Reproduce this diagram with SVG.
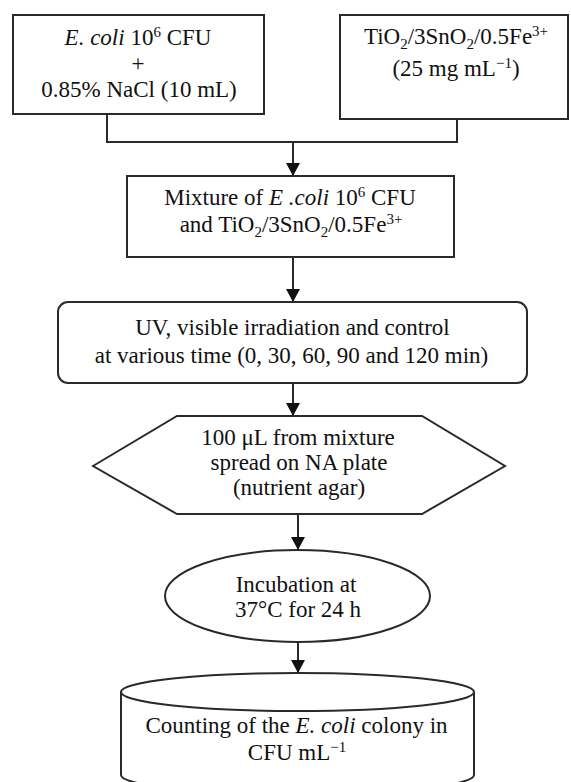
<svg xmlns="http://www.w3.org/2000/svg" width="571" height="782" viewBox="0 0 571 782">
<style>
.shape{fill:#fff;stroke:#2a2a2a;stroke-width:2}
.conn{fill:none;stroke:#2a2a2a;stroke-width:2}
text{font-family:"Liberation Serif","Times New Roman",serif;font-size:23px;fill:#111;text-anchor:middle}
.it{font-style:italic}
.sm{font-size:15px}
</style>
<defs>
<marker id="arr" markerUnits="userSpaceOnUse" markerWidth="14" markerHeight="14" viewBox="0 0 14 14" refX="13" refY="7" orient="auto">
<path d="M0,0 L13,7 L0,14 Z" fill="#111"/>
</marker>
</defs>
<rect width="571" height="782" fill="#fff"/>
<g id="connectors">
<polyline class="conn" points="107,114 107,142 457,142 457,119"/>
<line class="conn" x1="293" y1="142" x2="293" y2="176" marker-end="url(#arr)"/>
<line class="conn" x1="293" y1="257" x2="293" y2="302" marker-end="url(#arr)"/>
<line class="conn" x1="293" y1="383" x2="293" y2="416" marker-end="url(#arr)"/>
<line class="conn" x1="298" y1="514" x2="298" y2="550" marker-end="url(#arr)"/>
<line class="conn" x1="298" y1="642" x2="298" y2="673" marker-end="url(#arr)"/>
</g>
<g id="ecoli">
<rect class="shape" x="13" y="15" width="251" height="99"/>
<text x="138" y="45"><tspan class="it">E. coli</tspan> 10<tspan class="sm" dy="-8">6</tspan><tspan dy="8"> CFU</tspan></text>
<text x="138" y="71">+</text>
<text x="139" y="97">0.85% NaCl (10 mL)</text>
</g>
<g id="catalyst">
<rect class="shape" x="340" y="15" width="228" height="104"/>
<text x="456" y="44">TiO<tspan class="sm" dy="5">2</tspan><tspan dy="-5">/3SnO</tspan><tspan class="sm" dy="5">2</tspan><tspan dy="-5">/0.5Fe</tspan><tspan class="sm" dy="-8">3+</tspan></text>
<text x="456" y="76">(25 mg mL<tspan class="sm" dy="-8">−1</tspan><tspan dy="8">)</tspan></text>
</g>
<g id="mixture">
<rect class="shape" x="127" y="176" width="327" height="81"/>
<text x="290" y="205">Mixture of <tspan class="it">E .coli</tspan> 10<tspan class="sm" dy="-8">6</tspan><tspan dy="8"> CFU</tspan></text>
<text x="291" y="232">and TiO<tspan class="sm" dy="5">2</tspan><tspan dy="-5">/3SnO</tspan><tspan class="sm" dy="5">2</tspan><tspan dy="-5">/0.5Fe</tspan><tspan class="sm" dy="-8">3+</tspan></text>
</g>
<g id="irradiation">
<rect class="shape" x="58" y="302" width="469" height="81" rx="10"/>
<text x="292.5" y="335">UV, visible irradiation and control</text>
<text x="291.5" y="363">at various time (0, 30, 60, 90 and 120 min)</text>
</g>
<g id="spread">
<polygon class="shape" points="93,466 177,416 422,416 505,466 422,514 177,514"/>
<text x="298" y="445">100 μL from mixture</text>
<text x="299" y="470">spread on NA plate</text>
<text x="299" y="495">(nutrient agar)</text>
</g>
<g id="incubation">
<ellipse class="shape" cx="297.5" cy="596" rx="132.5" ry="46"/>
<text x="296" y="592">Incubation at</text>
<text x="298" y="617">37°C for 24 h</text>
</g>
<g id="counting">
<path class="shape" d="M121,692 L121,775 A176.5,19 0 0 0 474,775 L474,692"/>
<ellipse class="shape" cx="297.5" cy="692" rx="176.5" ry="19"/>
<text x="296.5" y="733">Counting of the <tspan class="it">E. coli</tspan> colony in</text>
<text x="297" y="760">CFU mL<tspan class="sm" dy="-8">−1</tspan></text>
</g>
</svg>
